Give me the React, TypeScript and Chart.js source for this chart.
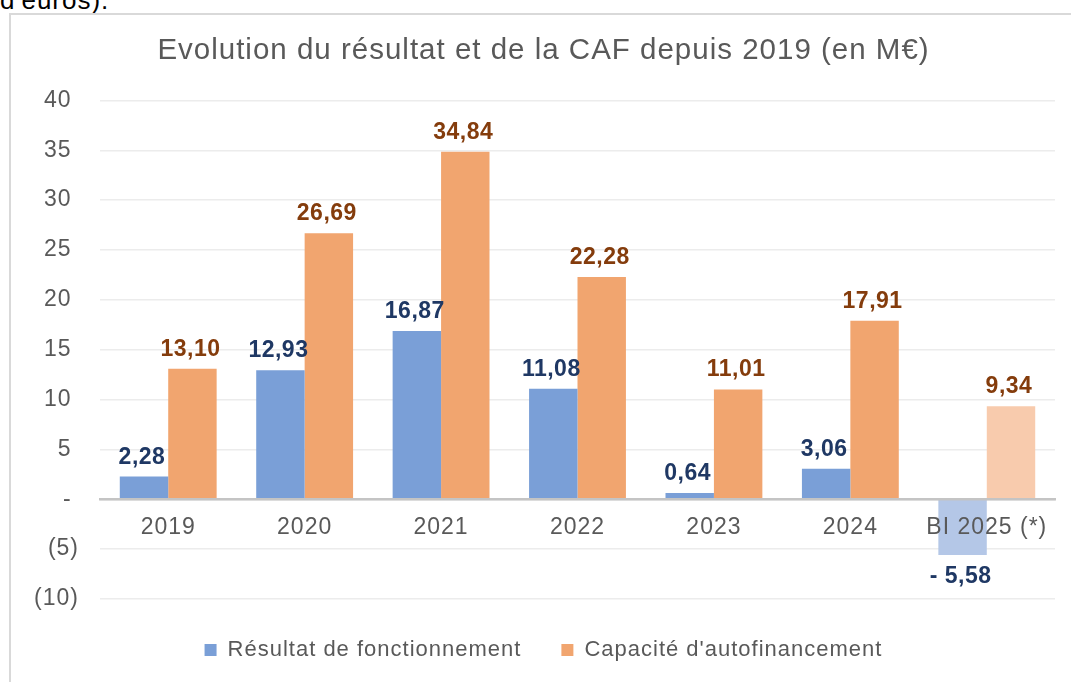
import React, { useEffect, useRef } from 'react';
import { Chart, registerables } from 'chart.js';

Chart.register(...registerables);

const FONT = 'Arial, "Liberation Sans", Helvetica, sans-serif';

const headerText = "d'euros).";
const titleText = 'Evolution du résultat et de la CAF depuis 2019 (en M€)';
const categories = ['2019', '2020', '2021', '2022', '2023', '2024', 'BI 2025 (*)'];
const seriesNames = ['Résultat de fonctionnement', "Capacité d'autofinancement"];
const resultatFonctionnement = [2.28, 12.93, 16.87, 11.08, 0.64, 3.06, -5.58];
const capaciteAutofinancement = [13.1, 26.69, 34.84, 22.28, 11.01, 17.91, 9.34];
const yMin = -10;
const yMax = 40;
const yStep = 5;

const barColors = ['#7A9FD7', '#F1A56F'];
const projectedColors = ['#B4C7E7', '#F8CBAD'];
const labelColors = ['#1F3864', '#843C0C'];

const fmtValue = (v: number) => {
  const s = Math.abs(v).toFixed(2).replace('.', ',');
  return v < 0 ? '- ' + s : s;
};

const fmtTick = (v: number) => {
  if (v === 0) return '- ';
  if (v < 0) return '(' + Math.abs(v) + ')';
  return v + ' ';
};

const spacingPlugin = {
  id: 'spacing',
  beforeLayout(chart: any) {
    chart.ctx.letterSpacing = '1px';
  },
  beforeDraw(chart: any) {
    chart.ctx.letterSpacing = '1px';
  },
};

const valueLabelsPlugin = {
  id: 'valueLabels',
  afterDatasetsDraw(chart: any) {
    const ctx = chart.ctx;
    ctx.save();
    ctx.letterSpacing = '0.5px';
    ctx.font = `bold 23px ${FONT}`;
    ctx.textAlign = 'center';
    ctx.textBaseline = 'alphabetic';
    chart.data.datasets.forEach((ds: any, di: number) => {
      const meta = chart.getDatasetMeta(di);
      meta.data.forEach((el: any, i: number) => {
        const v = ds.data[i] as number;
        ctx.fillStyle = labelColors[di];
        const y = v >= 0 ? el.y - 13 : el.y + 28;
        ctx.fillText(fmtValue(v), el.x - 2, y);
      });
    });
    ctx.restore();
  },
};

const isProjected = (i: number) => categories[i] !== undefined && categories[i].startsWith('BI');

export default function App() {
  const canvasRef = useRef<HTMLCanvasElement | null>(null);

  useEffect(() => {
    if (!canvasRef.current) return;
    const chart = new Chart(canvasRef.current, {
      type: 'bar',
      data: {
        labels: categories,
        datasets: [
          {
            label: seriesNames[0],
            data: resultatFonctionnement,
            backgroundColor: (c: any) => (isProjected(c.dataIndex) ? projectedColors[0] : barColors[0]),
            borderWidth: 0,
            categoryPercentage: 0.71,
            barPercentage: 1,
          },
          {
            label: seriesNames[1],
            data: capaciteAutofinancement,
            backgroundColor: (c: any) => (isProjected(c.dataIndex) ? projectedColors[1] : barColors[1]),
            borderWidth: 0,
            categoryPercentage: 0.71,
            barPercentage: 1,
          },
        ],
      },
      options: {
        animation: false,
        responsive: false,
        devicePixelRatio: 1,
        layout: { padding: { left: 21, right: 30, top: 0, bottom: 0 } },
        scales: {
          x: {
            position: { y: 0 } as any,
            grid: { display: false, drawTicks: false },
            border: { display: true, color: '#c4c4c4', width: 2.5, z: 1 },
            ticks: {
              z: 1,
              color: '#595959',
              font: { size: 23, family: FONT },
              padding: 15,
              maxRotation: 0,
              autoSkip: false,
            },
            afterFit: (s: any) => {
              s.height = 0;
            },
          },
          y: {
            min: yMin,
            max: yMax,
            grid: { color: '#ececec', lineWidth: 1.5, drawTicks: false },
            border: { display: false },
            ticks: {
              stepSize: yStep,
              color: '#595959',
              font: { size: 23, family: FONT },
              padding: 21,
              callback: (v: any) => fmtTick(Number(v)),
            },
            afterFit: (s: any) => {
              s.width = 68;
            },
          },
        },
        plugins: {
          title: {
            display: true,
            text: titleText,
            color: '#595959',
            font: { size: 29.5, weight: 'normal', family: FONT },
            padding: { top: 18, bottom: 32 },
          },
          legend: {
            position: 'bottom',
            labels: {
              boxWidth: 12,
              boxHeight: 12,
              padding: 40,
              color: '#595959',
              font: { size: 22, family: FONT },
            },
          },
          tooltip: { enabled: false },
        },
      },
      plugins: [spacingPlugin, valueLabelsPlugin],
    } as any);
    return () => chart.destroy();
  }, []);

  return (
    <div
      style={{
        position: 'fixed',
        left: 0,
        top: 0,
        width: 1071,
        height: 682,
        overflow: 'hidden',
        background: '#fff',
      }}
    >
      <div
        style={{
          position: 'absolute',
          left: 0,
          top: -15,
          font: `26px ${FONT}`,
          letterSpacing: '1px',
          color: '#000',
          whiteSpace: 'nowrap',
          lineHeight: 'normal',
        }}
      >
        {headerText}
      </div>
      <div
        style={{
          position: 'absolute',
          left: 9,
          top: 13,
          width: 1100,
          height: 700,
          borderLeft: '2px solid #d9d9d9',
          borderTop: '2px solid #d9d9d9',
        }}
      >
        <canvas ref={canvasRef} width={1074} height={656} style={{ display: 'block', width: 1074, height: 656 }} />
      </div>
    </div>
  );
}
